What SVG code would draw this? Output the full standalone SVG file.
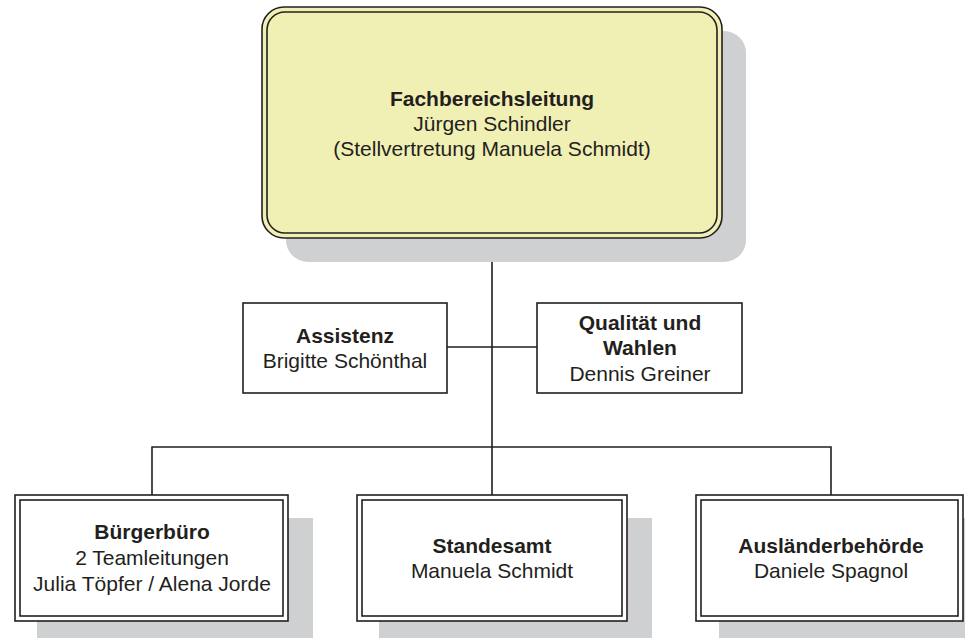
<svg xmlns="http://www.w3.org/2000/svg" width="965" height="638" viewBox="0 0 965 638">
<style>
.sh{fill:#cfd0d2}
.ln{stroke:#231f20;stroke-width:1.6;fill:none}
.bx{fill:#ffffff;stroke:#231f20;stroke-width:1.6}
.t{font-family:"Liberation Sans",Arial,sans-serif;font-size:21px;fill:#231f20;text-anchor:middle}
.b{font-weight:bold}
</style>
<rect width="965" height="638" fill="#ffffff"/>
<g id="connectors">
<path class="ln" d="M492,238 V447 M447,347 H537 M152,495 V447 H831 V495 M492,447 V495"/>
</g>
<g id="fachbereichsleitung">
<rect class="sh" x="286" y="31" width="460" height="231" rx="22"/>
<rect x="262" y="7" width="460" height="231" rx="22" fill="#f1f0b4" stroke="#231f20" stroke-width="1.6"/>
<rect x="267" y="12" width="450" height="221" rx="18" fill="none" stroke="#231f20" stroke-width="1.6"/>
<text class="t b" x="492" y="106">Fachbereichsleitung</text>
<text class="t" x="492" y="131">Jürgen Schindler</text>
<text class="t" x="492" y="156">(Stellvertretung Manuela Schmidt)</text>
</g>
<g id="assistenz">
<rect class="bx" x="243" y="303" width="204" height="90"/>
<text class="t b" x="345" y="343">Assistenz</text>
<text class="t" x="345" y="368">Brigitte Schönthal</text>
</g>
<g id="qualitaet">
<rect class="bx" x="537" y="303" width="205" height="90"/>
<text class="t b" x="640" y="330">Qualität und</text>
<text class="t b" x="640" y="355">Wahlen</text>
<text class="t" x="640" y="381">Dennis Greiner</text>
</g>
<g id="buergerbuero">
<rect class="sh" x="37" y="518" width="276" height="126"/>
<rect class="bx" x="15" y="495" width="273" height="126"/>
<rect x="20" y="500" width="263" height="116" fill="none" stroke="#231f20" stroke-width="1.6"/>
<text class="t b" x="152" y="539">Bürgerbüro</text>
<text class="t" x="152" y="565">2 Teamleitungen</text>
<text class="t" x="152" y="591">Julia Töpfer / Alena Jorde</text>
</g>
<g id="standesamt">
<rect class="sh" x="379" y="518" width="273" height="126"/>
<rect class="bx" x="357" y="495" width="270" height="126"/>
<rect x="362" y="500" width="260" height="116" fill="none" stroke="#231f20" stroke-width="1.6"/>
<text class="t b" x="492" y="553">Standesamt</text>
<text class="t" x="492" y="578">Manuela Schmidt</text>
</g>
<g id="auslaenderbehoerde">
<rect class="sh" x="719" y="518" width="260" height="126"/>
<rect class="bx" x="696" y="495" width="267" height="126"/>
<rect x="701" y="500" width="257" height="116" fill="none" stroke="#231f20" stroke-width="1.6"/>
<text class="t b" x="831" y="553">Ausländerbehörde</text>
<text class="t" x="831" y="578">Daniele Spagnol</text>
</g>
</svg>
